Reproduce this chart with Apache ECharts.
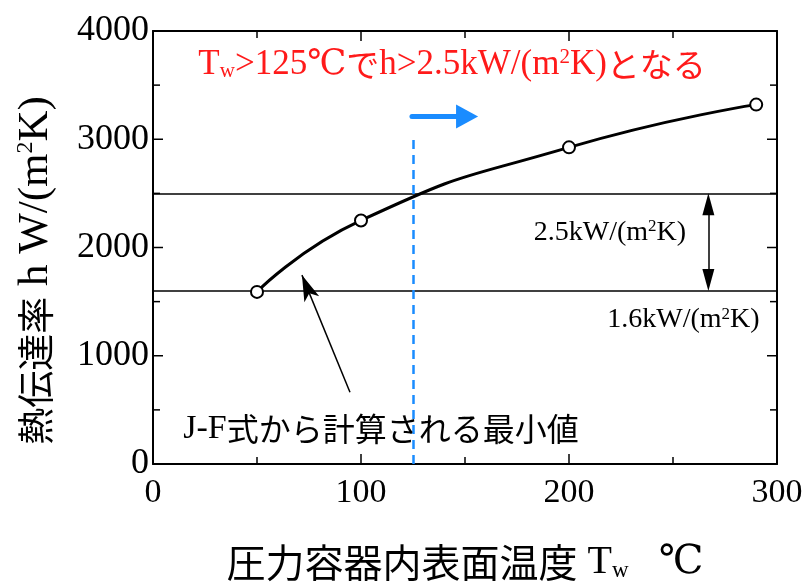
<!DOCTYPE html>
<html>
<head>
<meta charset="utf-8">
<script src="https://cdn.jsdelivr.net/npm/echarts@6/dist/echarts.min.js"></script>
<style>
  html, body { margin: 0; padding: 0; background: #fff; }
  #chart { width: 809px; height: 587px; }
</style>
</head>
<body>
<div id="chart"></div>
<script>
// 壁温と熱伝達率（J-F式から計算される最小値）
var tempList = [50, 100, 200, 290];
var hList = [1590, 2250, 2925, 3320];
var xTicks = [0, 100, 200, 300];
var yTicks = [0, 1000, 2000, 3000, 4000];
var hLines = [2500, 1600];      // 2.5kW/(m2K), 1.6kW/(m2K)
var tLimit = 125;               // 境界温度

var SERIF = '"Liberation Serif", "DejaVu Serif", "Noto Sans CJK JP", serif';
var CJK = '"Noto Sans CJK JP"';

var xMin = xTicks[0], xMax = xTicks[xTicks.length - 1];
var yMin = yTicks[0], yMax = yTicks[yTicks.length - 1];

var chart = echarts.init(document.getElementById('chart'));

function frameAxis(pos, isX) {
    return {
        type: 'value',
        position: pos,
        min: isX ? xMin : yMin,
        max: isX ? xMax : yMax,
        interval: isX ? 100 : 1000,
        axisLine: { show: true, onZero: false, lineStyle: { color: '#000', width: 2 } },
        axisTick: { show: false },
        splitLine: { show: false },
        axisLabel: { show: false }
    };
}

var xMain = frameAxis('bottom', true);
xMain.axisLabel = { show: true, margin: 12, color: '#000', fontSize: 34, fontFamily: SERIF };
xMain.name = '{j|圧力容器内表面温度} T{sub|w}   ℃';
xMain.nameLocation = 'middle';
xMain.nameGap = 78;
xMain.nameTextStyle = {
    color: '#000', fontSize: 40, fontFamily: SERIF,
    rich: {
        j: { fontSize: 39, fontFamily: CJK, color: '#000' },
        sub: { fontSize: 23, fontFamily: SERIF, verticalAlign: 'bottom', color: '#000' }
    }
};

var yMain = frameAxis('left', false);
yMain.axisLabel = {
    show: true, margin: 4, color: '#000', fontSize: 36, fontFamily: SERIF,
    formatter: function (v) { return String(v); }
};
yMain.name = '{j|熱伝達率} h W/(m{sup|2}K)';
yMain.nameLocation = 'middle';
yMain.nameGap = 96;
yMain.nameTextStyle = {
    color: '#000', fontSize: 43, fontFamily: SERIF,
    padding: [0, 46, 0, 0],
    rich: {
        j: { fontSize: 37, fontFamily: CJK, color: '#000' },
        sup: { fontSize: 24, fontFamily: SERIF, verticalAlign: 'top', color: '#000' }
    }
};

var option = {
    backgroundColor: '#fff',
    animation: false,
    grid: { left: 153, right: 32, top: 31, bottom: 116 },
    xAxis: [xMain, frameAxis('top', true)],
    yAxis: [yMain, frameAxis('right', false)],
    series: [
        {
            type: 'line',
            data: tempList.map(function (t, i) { return [t, hList[i]]; }),
            smooth: 0.55,
            symbol: 'circle',
            symbolSize: 12,
            itemStyle: { color: '#fff', borderColor: '#000', borderWidth: 2 },
            lineStyle: { color: '#000', width: 3 },
            z: 5,
            markLine: {
                silent: true,
                symbol: 'none',
                label: { show: false },
                lineStyle: { color: '#000', width: 1.5, type: 'solid' },
                data: hLines.map(function (v) { return { yAxis: v }; })
            }
        },
        {
            // 注記線・矢印
            type: 'line',
            data: [],
            markLine: {
                silent: true,
                label: { show: false },
                data: [
                    [
                        { coord: [tLimit, 0], symbol: 'none' },
                        { coord: [tLimit, 3000], symbol: 'none',
                          lineStyle: { color: '#1a8cff', width: 2.5, type: [9, 6] } }
                    ],
                    [
                        { coord: [124.5, 3211], symbol: 'none' },
                        { coord: [151, 3211], symbol: 'triangle', symbolSize: [24, 22], symbolRotate: -90,
                          lineStyle: { color: '#1a8cff', width: 5, type: 'solid', cap: 'round' } }
                    ],
                    [
                        { coord: [267, hLines[0] - 100], symbol: 'triangle', symbolSize: [12, 22] },
                        { coord: [267, hLines[1] + 100], symbol: 'triangle', symbolSize: [12, 22],
                          lineStyle: { color: '#000', width: 1.5, type: 'solid' } }
                    ],
                    [
                        { coord: [94.7, 662], symbol: 'none' },
                        { coord: [71.6, 1745], symbol: 'arrow', symbolSize: [12, 26],
                          lineStyle: { color: '#000', width: 1.5, type: 'solid' } }
                    ]
                ]
            },
            markPoint: {
                silent: true,
                symbol: 'circle',
                symbolSize: 0,
                data: [
                    {
                        coord: [143.8, 3690],
                        label: {
                            show: true, position: 'inside',
                            formatter: 'T{sub|w}>125℃{j|で}h>2.5kW/(m{sup|2}K){j|となる}',
                            color: '#ff1a1a', fontSize: 35, fontFamily: SERIF,
                            rich: {
                                j: { fontSize: 33, fontFamily: CJK, color: '#ff1a1a' },
                                sub: { fontSize: 21, fontFamily: SERIF, verticalAlign: 'bottom', color: '#ff1a1a' },
                                sup: { fontSize: 21, fontFamily: SERIF, verticalAlign: 'top', color: '#ff1a1a' }
                            }
                        }
                    },
                    {
                        coord: [219.7, 2140],
                        label: {
                            show: true, position: 'inside',
                            formatter: '2.5kW/(m{sup|2}K)',
                            color: '#000', fontSize: 28, fontFamily: SERIF,
                            rich: { sup: { fontSize: 17, fontFamily: SERIF, verticalAlign: 'top', color: '#000' } }
                        }
                    },
                    {
                        coord: [255, 1330],
                        label: {
                            show: true, position: 'inside',
                            formatter: '1.6kW/(m{sup|2}K)',
                            color: '#000', fontSize: 28, fontFamily: SERIF,
                            rich: { sup: { fontSize: 17, fontFamily: SERIF, verticalAlign: 'top', color: '#000' } }
                        }
                    },
                    {
                        coord: [109.6, 327],
                        label: {
                            show: true, position: 'inside',
                            formatter: 'J-F{j|式から計算される最小値}',
                            color: '#000', fontSize: 34, fontFamily: SERIF,
                            rich: { j: { fontSize: 32, fontFamily: CJK, color: '#000' } }
                        }
                    }
                ]
            }
        }
    ]
};

option && chart.setOption(option);

// 内向き目盛（主目盛＋中間の副目盛）を四辺に、軸のスケールから位置を求めて描く
(function () {
    var pxLeft = chart.convertToPixel({ xAxisIndex: 0 }, xMin);
    var pxRight = chart.convertToPixel({ xAxisIndex: 0 }, xMax);
    var pxBottom = chart.convertToPixel({ yAxisIndex: 0 }, yMin);
    var pxTop = chart.convertToPixel({ yAxisIndex: 0 }, yMax);
    var tickEls = [];
    function tickLine(x1, y1, x2, y2) {
        tickEls.push({
            type: 'line', silent: true, z: 100,
            shape: { x1: x1, y1: y1, x2: x2, y2: y2 },
            style: { stroke: '#000', lineWidth: 1.5 }
        });
    }
    function addTicks(list, isX) {
        list.forEach(function (v, i) {
            var vals = [[v, 10]];
            if (i < list.length - 1) vals.push([(v + list[i + 1]) / 2, 7]);
            vals.forEach(function (t) {
                if (isX) {
                    var px = chart.convertToPixel({ xAxisIndex: 0 }, t[0]);
                    tickLine(px, pxBottom, px, pxBottom - t[1]);
                    tickLine(px, pxTop, px, pxTop + t[1]);
                } else {
                    var py = chart.convertToPixel({ yAxisIndex: 0 }, t[0]);
                    tickLine(pxLeft, py, pxLeft + t[1], py);
                    tickLine(pxRight, py, pxRight - t[1], py);
                }
            });
        });
    }
    addTicks(xTicks, true);
    addTicks(yTicks, false);
    chart.setOption({ graphic: { elements: tickEls } });
})();
</script>
</body>
</html>
